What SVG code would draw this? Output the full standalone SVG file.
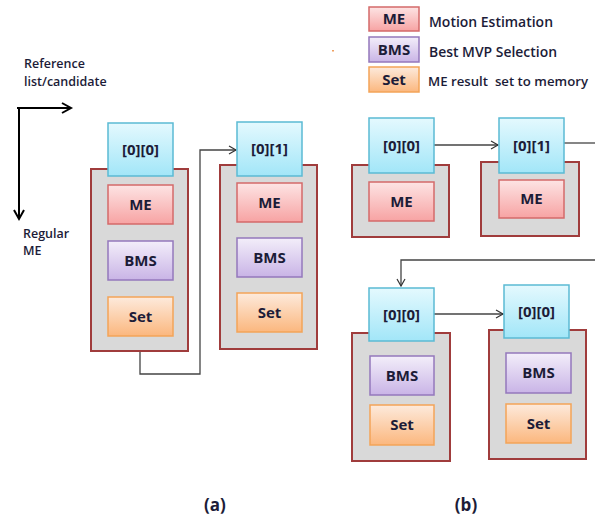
<svg xmlns="http://www.w3.org/2000/svg" width="595" height="518" viewBox="0 0 595 518">
<defs>
<linearGradient id="gc" x1="0" y1="0" x2="0" y2="1"><stop offset="0" stop-color="#e4f9fe"/><stop offset="1" stop-color="#a2e6f8"/></linearGradient>
<linearGradient id="gm" x1="0" y1="0" x2="0" y2="1"><stop offset="0" stop-color="#fde4e4"/><stop offset="1" stop-color="#f7a3a3"/></linearGradient>
<linearGradient id="gb" x1="0" y1="0" x2="0" y2="1"><stop offset="0" stop-color="#f3eefa"/><stop offset="1" stop-color="#c9b4e6"/></linearGradient>
<linearGradient id="gs" x1="0" y1="0" x2="0" y2="1"><stop offset="0" stop-color="#fdeadc"/><stop offset="1" stop-color="#fbb77e"/></linearGradient>
<marker id="ah" markerWidth="10" markerHeight="10" refX="8" refY="5" orient="auto" markerUnits="userSpaceOnUse"><path d="M1,1 L8,5 L1,9" fill="none" stroke="#333" stroke-width="1.2"/></marker>
<marker id="ahb" markerWidth="14" markerHeight="14" refX="11" refY="7" orient="auto" markerUnits="userSpaceOnUse"><path d="M2,2 L11,7 L2,12" fill="none" stroke="#000" stroke-width="2"/></marker>
</defs>
<style>
text{font-family:"Open Sans","Noto Sans","Liberation Sans",sans-serif;font-weight:600;fill:#1c1c38}
.c{fill:url(#gc);stroke:#5bbad4;stroke-width:1.5}
.m{fill:url(#gm);stroke:#d46a6a;stroke-width:1.5}
.b{fill:url(#gb);stroke:#9478bc;stroke-width:1.5}
.s{fill:url(#gs);stroke:#f3a458;stroke-width:1.5}
.o{fill:#d9d9d9;stroke:#a03c3c;stroke-width:2}
.t{font-size:15px;font-weight:700;text-anchor:middle}
.l{font-size:14px}
.cn{fill:none;stroke:#444;stroke-width:1.3}
</style>
<g id="legend">
<rect class="m" x="369" y="7" width="50" height="24"/><text class="t" x="394" y="24">ME</text>
<rect class="b" x="369" y="37" width="50" height="25"/><text class="t" x="394" y="55">BMS</text>
<rect class="s" x="369" y="67" width="50" height="25"/><text class="t" x="394" y="85">Set</text>
<text class="l" x="429" y="27" textLength="124" lengthAdjust="spacingAndGlyphs">Motion Estimation</text>
<text class="l" x="429" y="57" textLength="128" lengthAdjust="spacingAndGlyphs">Best MVP Selection</text>
<text class="l" x="428" y="86" xml:space="preserve" style="font-size:13px" textLength="160" lengthAdjust="spacingAndGlyphs">ME result  set to memory</text>
<rect x="332" y="50" width="2" height="1.5" fill="#f0a060"/>
</g>
<g id="axes">
<text class="l" x="24" y="68" style="font-size:12.5px">Reference</text>
<text class="l" x="24" y="86" style="font-size:12.5px">list/candidate</text>
<text class="l" x="23" y="238" style="font-size:12.5px">Regular</text>
<text class="l" x="23" y="255" style="font-size:12.5px">ME</text>
<path d="M17,108 H71" fill="none" stroke="#000" stroke-width="2" marker-end="url(#ahb)"/>
<path d="M19,108 V219" fill="none" stroke="#000" stroke-width="2" marker-end="url(#ahb)"/>
</g>
<g id="connectors">
<path class="cn" d="M140,351 V374 H200 V150 H236" marker-end="url(#ah)"/>
<path class="cn" d="M434,145 H498" marker-end="url(#ah)"/>
<path class="cn" d="M564,143 H595"/>
<path class="cn" d="M595,260 H401 V286" marker-end="url(#ah)"/>
<path class="cn" d="M434,314 H503" marker-end="url(#ah)"/>
</g>
<g id="a00">
<rect class="o" x="91" y="169" width="97" height="182"/>
<rect class="c" x="108" y="123" width="65" height="53"/><text class="t" x="140.5" y="155">[0][0]</text>
<rect class="m" x="108" y="185" width="65" height="39"/><text class="t" x="140.5" y="210">ME</text>
<rect class="b" x="108" y="241" width="65" height="39"/><text class="t" x="140.5" y="266">BMS</text>
<rect class="s" x="108" y="297" width="65" height="39"/><text class="t" x="140.5" y="322">Set</text>
</g>
<g id="a01">
<rect class="o" x="220" y="165" width="97" height="184"/>
<rect class="c" x="237" y="122" width="65" height="54"/><text class="t" x="269.5" y="154">[0][1]</text>
<rect class="m" x="237" y="183" width="65" height="39"/><text class="t" x="269.5" y="208">ME</text>
<rect class="b" x="237" y="238" width="65" height="39"/><text class="t" x="269.5" y="263">BMS</text>
<rect class="s" x="237" y="293" width="65" height="39"/><text class="t" x="269.5" y="318">Set</text>
</g>
<g id="b00top">
<rect class="o" x="352" y="165" width="97" height="72"/>
<rect class="c" x="369" y="118" width="65" height="55"/><text class="t" x="401.5" y="151">[0][0]</text>
<rect class="m" x="369" y="182" width="65" height="39"/><text class="t" x="401.5" y="207">ME</text>
</g>
<g id="b01top">
<rect class="o" x="481" y="162" width="98" height="74"/>
<rect class="c" x="499" y="118" width="65" height="55"/><text class="t" x="531.5" y="151">[0][1]</text>
<rect class="m" x="499" y="180" width="65" height="38"/><text class="t" x="531.5" y="204">ME</text>
</g>
<g id="b00bot">
<rect class="o" x="352" y="333" width="98" height="128"/>
<rect class="c" x="369" y="288" width="65" height="53"/><text class="t" x="401.5" y="320">[0][0]</text>
<rect class="b" x="370" y="356" width="64" height="39"/><text class="t" x="402" y="381">BMS</text>
<rect class="s" x="370" y="405" width="64" height="40"/><text class="t" x="402" y="430">Set</text>
</g>
<g id="b00bot2">
<rect class="o" x="489" y="330" width="97" height="129"/>
<rect class="c" x="504" y="285" width="65" height="53"/><text class="t" x="536.5" y="317">[0][0]</text>
<rect class="b" x="506" y="353" width="65" height="40"/><text class="t" x="538.5" y="378">BMS</text>
<rect class="s" x="506" y="404" width="65" height="39"/><text class="t" x="538.5" y="429">Set</text>
</g>
<g id="captions">
<text x="215" y="511" style="font-size:17px;font-weight:700;text-anchor:middle">(a)</text>
<text x="466" y="511" style="font-size:17px;font-weight:700;text-anchor:middle">(b)</text>
</g>
</svg>
